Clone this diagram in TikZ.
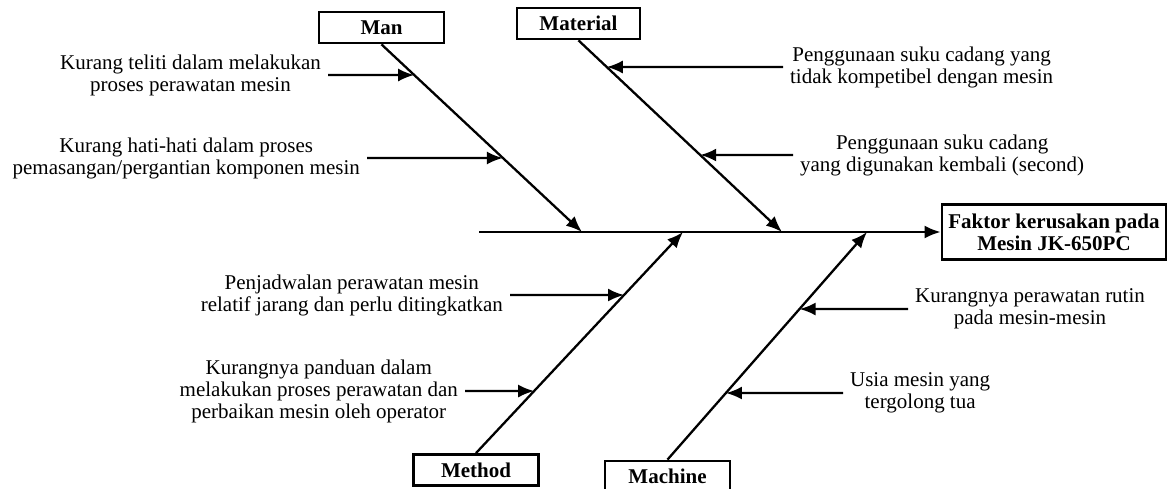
\documentclass[tikz,border=0pt]{standalone}
\usepackage{fontspec}
\setmainfont{Liberation Serif}
\usetikzlibrary{arrows.meta}
\tikzset{
  catbox/.style={draw, line width=1.4pt, font=\fontsize{10.5}{11}\selectfont\bfseries,
    minimum width=62.5pt, minimum height=15.5pt, inner sep=0pt},
  cause/.style={align=center, font=\fontsize{10.5}{11}\selectfont, inner sep=3pt},
}

\begin{document}
\begin{tikzpicture}[x=0.5pt, y=-0.5pt, >={Latex[length=8pt,width=6.5pt]}, line width=1.15pt]
  \useasboundingbox (0,0) rectangle (1168,488);
  % categories and effect
  \node[catbox] (man) at (381.5,27.5) {Man};
  \node[catbox, minimum width=61.5pt] (material) at (578.5,23.5) {Material};
  \node[catbox] (method) at (476,470) {Method};
  \node[catbox] (machine) at (667.5,476.5) {Machine};
  \node[catbox, align=center, minimum width=112pt, minimum height=27.5pt] (effect) at (1054,232)
    {Faktor kerusakan pada\\Mesin JK-650PC};
  % spine
  \coordinate (tail) at (479,232);
  \draw[->] (tail) -- (effect.west);
  \foreach \n/\x in {tMan/582, tMat/782, tMet/683, tMac/867}
    \coordinate (\n) at (\x,232);
  \draw[->] (man.south) -- (tMan);
  \draw[->] (material.south) -- (tMat);
  \draw[->] (method.north) -- (tMet);
  \draw[->] (machine.north) -- (tMac);
  % causes
  \node[cause, anchor=east] (man1) at (328,75) {Kurang teliti dalam melakukan\\proses perawatan mesin};
  \node[cause, anchor=east] (man2) at (367,158) {Kurang hati-hati dalam proses\\pemasangan/pergantian komponen mesin};
  \node[cause, anchor=west] (mat1) at (783,67) {Penggunaan suku cadang yang\\tidak kompetibel dengan mesin};
  \node[cause, anchor=west] (mat2) at (793,155) {Penggunaan suku cadang\\yang digunakan kembali (second)};
  \node[cause, anchor=east] (met1) at (510,295) {Penjadwalan perawatan mesin\\relatif jarang dan perlu ditingkatkan};
  \node[cause, anchor=east] (met2) at (465,391) {Kurangnya panduan dalam\\melakukan proses perawatan dan\\perbaikan mesin oleh operator};
  \node[cause, anchor=west] (mac1) at (908,309) {Kurangnya perawatan rutin\\pada mesin-mesin};
  \node[cause, anchor=west] (mac2) at (843,393) {Usia mesin yang\\tergolong tua};
  \draw[->] (man1.east) -- (intersection of man.south--tMan and man1.east--man1.west);
  \draw[->] (man2.east) -- (intersection of man.south--tMan and man2.east--man2.west);
  \draw[->] (mat1.west) -- (intersection of material.south--tMat and mat1.east--mat1.west);
  \draw[->] (mat2.west) -- (intersection of material.south--tMat and mat2.east--mat2.west);
  \draw[->] (met1.east) -- (intersection of method.north--tMet and met1.east--met1.west);
  \draw[->] (met2.east) -- (intersection of method.north--tMet and met2.east--met2.west);
  \draw[->] (mac1.west) -- (intersection of machine.north--tMac and mac1.east--mac1.west);
  \draw[->] (mac2.west) -- (intersection of machine.north--tMac and mac2.east--mac2.west);
\end{tikzpicture}
\end{document}
